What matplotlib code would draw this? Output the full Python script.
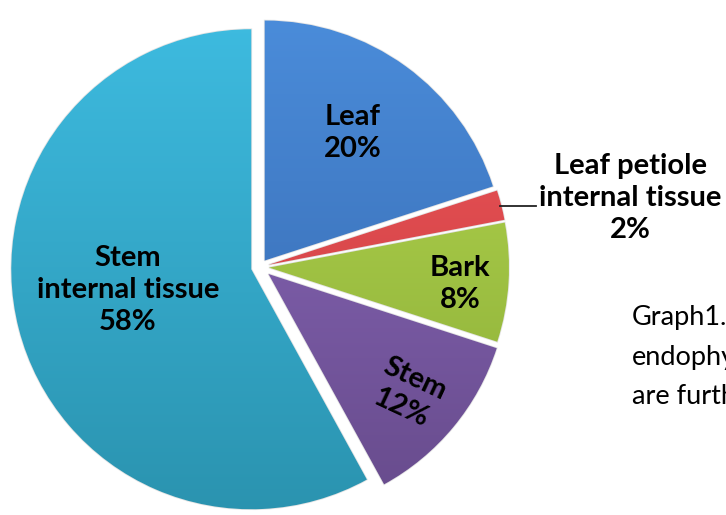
import numpy as np
import matplotlib
matplotlib.use("Agg")
import matplotlib.pyplot as plt
from matplotlib.colors import LinearSegmentedColormap

# data
names = ["Leaf", "Leaf petiole\ninternal tissue", "Bark", "Stem", "Stem\ninternal tissue"]
values = [20, 2, 8, 12, 58]
top_colors = ["#4b8ddb", "#f0585b", "#b6d950", "#8e6cc1", "#3ebce1"]
bot_colors = ["#3363a8", "#c3383c", "#88aa36", "#664a8a", "#2a92ae"]
explode = [8, 9, 9, 11, 9]   # offsets in px (data units)

fig = plt.figure(figsize=(7.26, 5.15), dpi=100)
ax = fig.add_axes([0, 0, 1, 1])

cx, cy, r = 260, 248, 240
wedges, _ = ax.pie(values, explode=explode, startangle=90, counterclock=False,
                   center=(cx, cy), radius=r, frame=True,
                   colors=top_colors,
                   wedgeprops=dict(edgecolor="#e4e4e4", linewidth=1.2))
ax.set_xlim(0, 726)
ax.set_ylim(0, 515)
ax.set_aspect("equal")
ax.axis("off")

# vertical shading in every slice
grad = np.linspace(0, 1, 256).reshape(-1, 1)
for w, c1, c2 in zip(wedges, top_colors, bot_colors):
    cm = LinearSegmentedColormap.from_list("g", [c2, c1])
    im = ax.imshow(grad, cmap=cm, origin="lower", aspect="auto",
                   extent=(cx - r - 20, cx + r + 20, cy - r - 20, cy + r + 20), zorder=2)
    im.set_clip_path(w)
    w.set_zorder(1)

lab = dict(family="Lato", weight="bold", fontsize=21, ha="center", va="center",
           linespacing=1.3, zorder=5)
ax.text(353, 515 - 133, "Leaf\n20%", **lab)
ax.text(128, 515 - 290, "Stem\ninternal tissue\n58%", **lab)
ax.text(460, 515 - 284, "Bark\n8%", **lab)
ax.text(408, 515 - 393, "Stem\n12%", rotation=-25, rotation_mode="anchor", **lab)
ax.text(630, 515 - 198, "Leaf petiole\ninternal tissue\n2%", **lab)
ax.plot([500, 536], [515 - 206, 515 - 206], color="#222222", lw=1.3, zorder=5)

ax.text(632, 515 - 357, "Graph1.\nendophytes\nare further", family="Lato",
        fontsize=19.5, ha="left", va="center", linespacing=1.7, clip_on=True)

fig.savefig("out.png", dpi=100)
